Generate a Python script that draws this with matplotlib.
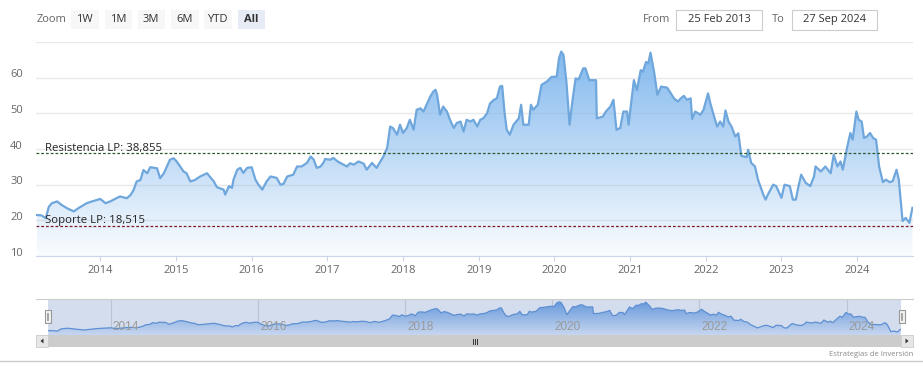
import numpy as np
import matplotlib.pyplot as plt
from matplotlib.patches import Rectangle, Polygon
from matplotlib.colors import LinearSegmentedColormap
from matplotlib.transforms import ScaledTranslation, blended_transform_factory

# cotización (año decimal, precio)
fechas = [2013.16, 2013.22, 2013.28, 2013.32, 2013.36, 2013.43, 2013.49, 2013.56, 2013.65, 2013.71,
          2013.82, 2013.89, 2014.00, 2014.07, 2014.13, 2014.26, 2014.35, 2014.40, 2014.44, 2014.48,
          2014.53, 2014.57, 2014.62, 2014.66, 2014.75, 2014.79, 2014.84, 2014.88, 2014.92, 2014.97,
          2015.01, 2015.10, 2015.14, 2015.19, 2015.25, 2015.32, 2015.41, 2015.50, 2015.54, 2015.63,
          2015.65, 2015.70, 2015.74, 2015.76, 2015.81, 2015.85, 2015.89, 2015.94, 2016.00, 2016.05,
          2016.09, 2016.14, 2016.20, 2016.25, 2016.33, 2016.38, 2016.42, 2016.47, 2016.55, 2016.60,
          2016.66, 2016.73, 2016.78, 2016.82, 2016.86, 2016.91, 2016.95, 2016.97, 2017.04, 2017.08,
          2017.13, 2017.17, 2017.26, 2017.30, 2017.35, 2017.41, 2017.48, 2017.52, 2017.59, 2017.65,
          2017.74, 2017.79, 2017.83, 2017.87, 2017.92, 2017.96, 2018.00, 2018.05, 2018.09, 2018.14,
          2018.18, 2018.23, 2018.27, 2018.32, 2018.36, 2018.40, 2018.43, 2018.45, 2018.49, 2018.53,
          2018.58, 2018.62, 2018.67, 2018.71, 2018.76, 2018.80, 2018.84, 2018.89, 2018.93, 2018.98,
          2019.02, 2019.06, 2019.11, 2019.15, 2019.20, 2019.24, 2019.28, 2019.31, 2019.34, 2019.37,
          2019.41, 2019.46, 2019.53, 2019.56, 2019.59, 2019.66, 2019.69, 2019.72, 2019.78, 2019.83,
          2019.90, 2019.96, 2020.03, 2020.06, 2020.09, 2020.12, 2020.16, 2020.20, 2020.24, 2020.28,
          2020.32, 2020.38, 2020.41, 2020.46, 2020.55, 2020.56, 2020.64, 2020.68, 2020.74, 2020.78,
          2020.82, 2020.87, 2020.91, 2020.96, 2020.98, 2021.05, 2021.09, 2021.14, 2021.17, 2021.21,
          2021.24, 2021.27, 2021.32, 2021.36, 2021.41, 2021.49, 2021.58, 2021.63, 2021.67, 2021.71,
          2021.75, 2021.80, 2021.82, 2021.86, 2021.93, 2021.97, 2022.03, 2022.06, 2022.11, 2022.15,
          2022.19, 2022.23, 2022.26, 2022.30, 2022.34, 2022.39, 2022.43, 2022.47, 2022.54, 2022.56,
          2022.60, 2022.65, 2022.69, 2022.76, 2022.79, 2022.82, 2022.89, 2022.93, 2023.00, 2023.04,
          2023.11, 2023.15, 2023.19, 2023.22, 2023.26, 2023.32, 2023.38, 2023.43, 2023.45, 2023.52,
          2023.58, 2023.65, 2023.69, 2023.74, 2023.78, 2023.81, 2023.87, 2023.91, 2023.94, 2023.99,
          2024.02, 2024.06, 2024.09, 2024.13, 2024.17, 2024.21, 2024.25, 2024.29, 2024.34, 2024.38,
          2024.43, 2024.47, 2024.52, 2024.55, 2024.60, 2024.64, 2024.69, 2024.73]
precios = [21.5, 21.4, 20.6, 23.8, 24.8, 25.3, 24.3, 23.4, 22.5, 23.4,
           24.8, 25.3, 26.0, 24.8, 25.3, 26.7, 26.2, 27.1, 28.5, 30.9,
           31.3, 34.1, 33.2, 34.9, 34.6, 31.8, 33.2, 35.1, 37.0, 37.4,
           36.5, 33.7, 33.2, 30.9, 31.3, 32.3, 33.2, 30.9, 29.3, 28.6,
           27.2, 29.6, 29.1, 31.4, 34.2, 34.7, 33.3, 34.7, 34.9, 31.4,
           30.0, 28.6, 31.0, 32.3, 31.9, 30.0, 30.2, 32.3, 32.8, 35.1,
           35.1, 36.1, 37.9, 37.0, 34.7, 35.1, 36.2, 37.2, 37.0, 37.5,
           36.6, 36.1, 35.1, 36.0, 35.6, 36.5, 35.9, 34.2, 36.1, 34.7,
           37.9, 40.3, 46.3, 45.8, 44.0, 46.8, 44.5, 45.9, 48.2, 45.4,
           51.0, 51.4, 50.5, 52.8, 54.7, 56.1, 56.6, 55.2, 49.6, 51.9,
           50.5, 48.2, 45.9, 47.3, 47.7, 44.9, 48.2, 47.7, 48.2, 46.3,
           48.2, 48.6, 50.0, 52.8, 53.8, 54.2, 57.5, 57.7, 50.5, 45.4,
           44.0, 46.8, 48.6, 52.4, 46.8, 46.8, 52.4, 51.0, 52.4, 58.0,
           58.9, 60.2, 60.3, 65.4, 67.3, 66.4, 58.5, 46.8, 53.8, 59.8,
           59.5, 62.6, 62.6, 59.3, 59.3, 48.6, 49.1, 50.5, 51.9, 53.8,
           45.4, 45.9, 50.5, 50.5, 46.8, 59.3, 56.5, 62.1, 61.7, 64.4,
           64.0, 67.0, 61.2, 55.2, 57.5, 57.2, 54.2, 53.3, 54.2, 54.9,
           53.8, 54.2, 48.4, 50.5, 49.6, 51.0, 55.6, 52.8, 49.1, 46.3,
           47.7, 46.3, 50.8, 47.7, 46.3, 43.5, 44.4, 38.1, 37.7, 39.8,
           36.1, 35.1, 31.4, 27.2, 25.8, 27.2, 30.0, 29.6, 26.3, 30.0,
           29.6, 25.8, 25.8, 29.1, 32.8, 30.5, 29.6, 32.3, 35.1, 33.7,
           35.1, 33.2, 38.4, 35.1, 36.5, 34.2, 40.7, 44.5, 42.6, 50.5,
           48.2, 47.7, 43.1, 43.5, 44.5, 43.1, 42.6, 35.1, 30.7, 31.4,
           30.7, 31.0, 34.2, 31.4, 19.8, 20.7, 19.3, 23.5]

anios_eje = list(range(2014, 2025))
anios_nav = [2014, 2016, 2018, 2020, 2022, 2024]
ticks_y = [10, 20, 30, 40, 50, 60, 70]
resistencia = 38.855
soporte = 18.515
botones = ['1W', '1M', '3M', '6M', 'YTD', 'All']
desde = '25 Feb 2013'
hasta = '27 Sep 2024'
x0 = 2013 + 55 / 365
x1 = 2024 + 270 / 366

plt.rcParams['font.family'] = ['Open Sans', 'DejaVu Sans']

W, H = 923, 371
fig = plt.figure(figsize=(W / 100, H / 100), dpi=100)


def caja(l, t, r, b):
    return [l / W, 1 - b / H, (r - l) / W, (b - t) / H]


def relleno(ax, xs, ys, base, top, c_top, c_bot):
    poly = ax.fill_between(xs, ys, base, facecolor='none', edgecolor='none')
    cmap = LinearSegmentedColormap.from_list('g', [c_bot, c_top])
    grad = np.linspace(0, 1, 256).reshape(-1, 1)
    im = ax.imshow(grad, extent=[xs[0], xs[-1], base, top], origin='lower',
                   aspect='auto', cmap=cmap, zorder=1)
    im.set_clip_path(poly.get_paths()[0], transform=ax.transData)


# ---- gráfico principal
ax = fig.add_axes(caja(36, 42, 913, 256))
ax.set_facecolor('none')
ax.set_axisbelow(True)
relleno(ax, fechas, precios, 10, max(precios), (0.49, 0.71, 0.93, 0.95), (0.49, 0.71, 0.93, 0.04))
ax.plot(fechas, precios, color='#6fa7dd', lw=1.6, zorder=3)
ax.set_xlim(x0, x1)
ax.set_ylim(10, 70)
ax.set_yticks(ticks_y)
ax.set_yticklabels([str(v) if v < 70 else '' for v in ticks_y])
ax.grid(axis='y', color='#e9e9e9', lw=1)
ax.set_xticks(anios_eje)
ax.set_xticklabels([str(a) for a in anios_eje])
for s in ['top', 'left', 'right']:
    ax.spines[s].set_visible(False)
ax.spines['bottom'].set_color('#ccd6eb')
ax.spines['bottom'].set_zorder(2)
ax.tick_params(axis='y', length=0, pad=9.5, labelsize=8, labelcolor='#666666')
ax.tick_params(axis='x', length=3.6, color='#ccd6eb', pad=3, labelsize=8, labelcolor='#666666')
for lab in ax.get_yticklabels():
    lab.set_transform(lab.get_transform() + ScaledTranslation(0, 4.5 / 100, fig.dpi_scale_trans))

trans = blended_transform_factory(ax.transAxes, ax.transData)
ax.axhline(resistencia, color='#2d5a2d', lw=0.9, ls=(0, (2.2, 1.6)), zorder=4)
ax.axhline(soporte, color='#7a1a2a', lw=0.9, ls=(0, (2.2, 1.6)), zorder=4)
off = ScaledTranslation(0, 2.5 / 100, fig.dpi_scale_trans)
ax.text(9 / 877, resistencia, 'Resistencia LP: ' + f'{resistencia:.3f}'.replace('.', ','),
        transform=trans + off, fontsize=8.2, color='#222222', va='baseline', zorder=5)
ax.text(9 / 877, soporte, 'Soporte LP: ' + f'{soporte:.3f}'.replace('.', ','),
        transform=trans + off, fontsize=8.2, color='#222222', va='baseline', zorder=5)

# ---- navegador
nav = fig.add_axes(caja(48, 299, 901, 335))
nav.set_facecolor('#d4ddee')
nav.set_xlim(x0, x1)
nav.set_ylim(14.5, 72)
for a in anios_nav:
    nav.axvline(a, color='#bcc4d4', lw=0.8, zorder=0.5)
relleno(nav, fechas, precios, 14.5, max(precios), (0.40, 0.60, 0.86, 1.0), (0.78, 0.84, 0.94, 1.0))
nav.plot(fechas, precios, color='#5d8fd2', lw=0.9, zorder=3)
nav.set_xlim(x0, x1)
nav.set_ylim(14.5, 72)
for a in anios_nav:
    nav.text(a + 0.03, 27.3, str(a), fontsize=8.5, color='#9a9a9a', va='center',
             family=['Liberation Sans Narrow', 'Liberation Sans'], zorder=4)
nav.set_xticks([])
nav.set_yticks([])
for s in nav.spines.values():
    s.set_visible(False)

# ---- elementos de interfaz en píxeles
ui = fig.add_axes([0, 0, 1, 1])
ui.set_xlim(0, W)
ui.set_ylim(H, 0)
ui.axis('off')
ui.patch.set_alpha(0)

ui.text(37, 19.5, 'Zoom', fontsize=8, color='#666666', va='center')
bx = [71, 104.5, 137.5, 171, 204, 237.5]
for x, b in zip(bx, botones):
    sel = b == 'All'
    ui.add_patch(Rectangle((x, 9.5), 27.5, 19.5, fc='#e6ebf5' if sel else '#f7f7f7', ec='none'))
    ui.text(x + 13.75, 19.5, b, fontsize=8, color='#333333', ha='center', va='center',
            fontweight='bold' if sel else 'normal')

ui.text(643, 19.5, 'From', fontsize=8, color='#666666', va='center')
ui.add_patch(Rectangle((676, 9.5), 86, 20, fc='white', ec='#cccccc', lw=0.8))
ui.text(719, 19.5, desde, fontsize=8, color='#333333', ha='center', va='center')
ui.text(772, 19.5, 'To', fontsize=8, color='#666666', va='center')
ui.add_patch(Rectangle((792, 9.5), 85, 20, fc='white', ec='#cccccc', lw=0.8))
ui.text(834.5, 19.5, hasta, fontsize=8, color='#333333', ha='center', va='center')

# contorno y tiradores del navegador
ui.plot([36, 913], [299, 299], color='#cccccc', lw=0.8)
for hx in [44.5, 898.5]:
    ui.add_patch(Rectangle((hx, 310), 6, 13, fc='#f2f2f2', ec='#999999', lw=0.8))
    ui.plot([hx + 2.3, hx + 2.3], [313, 320], color='#999999', lw=0.6)
    ui.plot([hx + 3.7, hx + 3.7], [313, 320], color='#999999', lw=0.6)

# barra de desplazamiento
ui.add_patch(Rectangle((36, 335), 877, 12, fc='#f2f2f2', ec='none'))
ui.add_patch(Rectangle((48, 335), 853, 12, fc='#cccccc', ec='none'))
for bxx in [36, 901]:
    ui.add_patch(Rectangle((bxx, 335), 12, 12, fc='#e6e6e6', ec='#cccccc', lw=0.6))
ui.add_patch(Polygon([(43.5, 338.5), (43.5, 343.5), (40.5, 341)], fc='#333333', ec='none'))
ui.add_patch(Polygon([(905.5, 338.5), (905.5, 343.5), (908.5, 341)], fc='#333333', ec='none'))
for gx in [472.5, 474.5, 476.5]:
    ui.plot([gx, gx], [338.5, 343.5], color='#333333', lw=0.7)

ui.text(913, 354, 'Estrategias de Inversión', fontsize=5.5, color='#888888', ha='right', va='center')
ui.plot([0, 923], [361, 361], color='#cccccc', lw=1)

fig.savefig('out.png', dpi=100)
